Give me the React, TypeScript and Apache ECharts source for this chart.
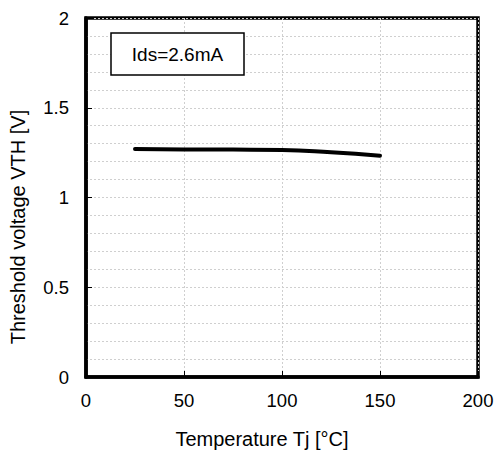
import React, { useEffect, useRef } from "react";
import * as echarts from "echarts";

const temperatures = [25, 50, 75, 100, 125, 150];
const vth = [1.27, 1.268, 1.267, 1.265, 1.252, 1.233];
const xTicks = [0, 50, 100, 150, 200];
const yTicks = [0, 0.5, 1, 1.5, 2];
const legendText = "Ids=2.6mA";
const xName = "Temperature Tj [°C]";
const yName = "Threshold voltage VTH [V]";

export default function App() {
  const ref = useRef<HTMLDivElement>(null);
  useEffect(() => {
    if (!ref.current) return;
    const chart = echarts.init(ref.current, null, { renderer: "svg" });
    const font = "Liberation Sans, Arial, sans-serif";
    chart.setOption({
      animation: false,
      backgroundColor: "#fff",
      grid: {
        left: 86,
        top: 18,
        right: 20,
        bottom: 75,
        show: true,
        borderColor: "#000",
        borderWidth: 3.5,
        backgroundColor: "transparent",
      },
      xAxis: {
        type: "value",
        min: xTicks[0],
        max: xTicks[xTicks.length - 1],
        interval: 50,
        axisLine: { show: true, lineStyle: { color: "#000", width: 3.5 } },
        axisTick: { show: true, inside: true, length: 6, lineStyle: { color: "#000", width: 1 } },
        axisLabel: { color: "#000", fontSize: 18.5, fontFamily: font, margin: 14 },
        splitLine: { show: true, lineStyle: { color: "#cfcfcf", type: [2, 2], width: 1 } },
      },
      yAxis: {
        type: "value",
        min: yTicks[0],
        max: yTicks[yTicks.length - 1],
        interval: 0.5,
        axisLine: { show: true, lineStyle: { color: "#000", width: 3.5 } },
        axisTick: { show: true, inside: true, length: 6, lineStyle: { color: "#000", width: 1 } },
        axisLabel: { color: "#000", fontSize: 18.5, fontFamily: font, margin: 17 },
        splitLine: { show: true, lineStyle: { color: "#cfcfcf", type: [2, 2], width: 1 } },
        minorTick: { show: false, splitNumber: 5 },
        minorSplitLine: { show: true, lineStyle: { color: "#cfcfcf", type: [2, 2], width: 1 } },
      },
      series: [
        {
          type: "line",
          data: temperatures.map((t, i) => [t, vth[i]]),
          smooth: true,
          showSymbol: false,
          lineStyle: { color: "#000", width: 4, cap: "round" },
          z: 5,
        },
      ],
      graphic: [
        {
          type: "rect",
          shape: { x: 111, y: 33, width: 133, height: 42 },
          style: { fill: "#fff", stroke: "#000", lineWidth: 1.5 },
          z: 10,
        },
        {
          type: "text",
          x: 177.5,
          y: 54,
          style: {
            text: legendText,
            fill: "#000",
            fontSize: 19,
            fontFamily: font,
            textAlign: "center",
            textVerticalAlign: "middle",
          },
          z: 11,
        },
        {
          type: "text",
          x: 262,
          y: 439,
          style: {
            text: xName,
            fill: "#000",
            fontSize: 20,
            fontFamily: font,
            textAlign: "center",
            textVerticalAlign: "middle",
          },
        },
        {
          type: "text",
          x: 18,
          y: 227,
          rotation: Math.PI / 2,
          style: {
            text: yName,
            fill: "#000",
            fontSize: 20,
            fontFamily: font,
            textAlign: "center",
            textVerticalAlign: "middle",
          },
        },
      ],
    });
    return () => chart.dispose();
  }, []);
  return <div ref={ref} style={{ width: 498, height: 452, position: "absolute", left: 0, top: 0 }} />;
}
